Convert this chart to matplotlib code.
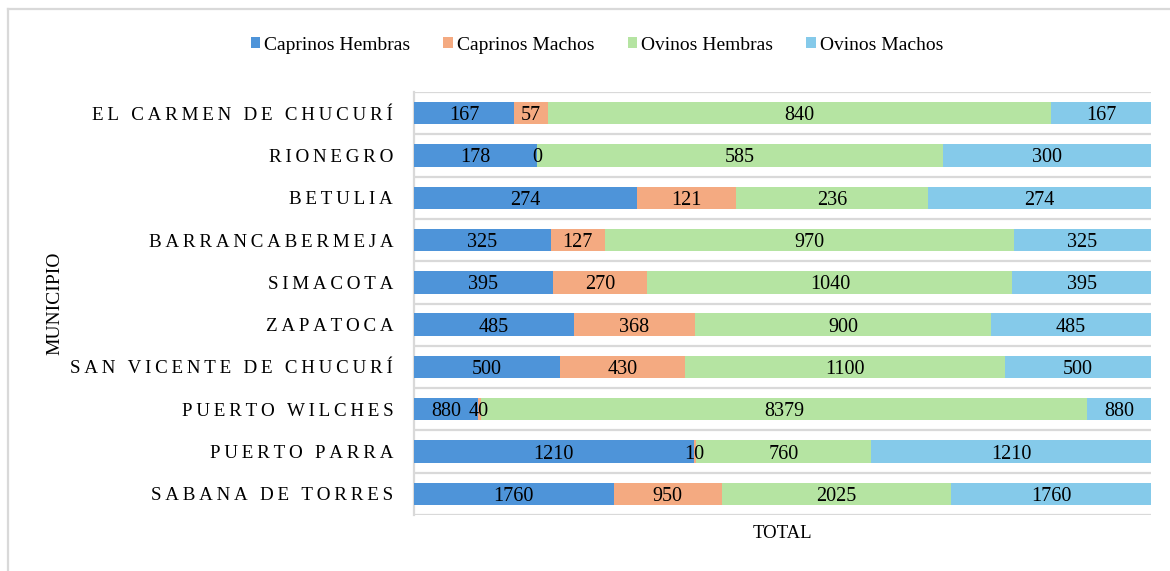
import numpy as np
import matplotlib.pyplot as plt

plt.rcParams['font.family'] = ['Liberation Serif', 'DejaVu Serif']

municipios = ['EL CARMEN DE CHUCURÍ', 'RIONEGRO', 'BETULIA', 'BARRANCABERMEJA',
              'SIMACOTA', 'ZAPATOCA', 'SAN VICENTE DE CHUCURÍ', 'PUERTO WILCHES',
              'PUERTO PARRA', 'SABANA DE TORRES']

caprinos_hembras = [167, 178, 274, 325, 395, 485, 500, 880, 1210, 1760]
caprinos_machos = [57, 0, 121, 127, 270, 368, 430, 40, 10, 950]
ovinos_hembras = [840, 585, 236, 970, 1040, 900, 1100, 8379, 760, 2025]
ovinos_machos = [167, 300, 274, 325, 395, 485, 500, 880, 1210, 1760]

series = [
    ('Caprinos Hembras', caprinos_hembras, '#4e94d9'),
    ('Caprinos Machos', caprinos_machos, '#f4aa81'),
    ('Ovinos Hembras', ovinos_hembras, '#b5e4a2'),
    ('Ovinos Machos', ovinos_machos, '#85caea'),
]

fig = plt.figure(figsize=(11.7, 5.71), dpi=100)
ax = fig.add_axes([414 / 1170, 1 - 515 / 571, 737 / 1170, 423 / 571])

# each row is normalised to 100 %
totals = np.sum([np.array(s[1]) for s in series], axis=0)
y = np.arange(len(municipios))
left = np.zeros(len(municipios))
for name, vals, color in series:
    vals = np.array(vals)
    share = vals / totals
    bars = ax.barh(y, share, left=left, height=0.53, color=color, label=name, zorder=3)
    texts = ax.bar_label(bars, labels=[str(v) for v in vals], label_type='center',
                         fontsize=14.5, color='black')
    for t in texts:
        t.set_zorder(10)
        t.set_va('center_baseline')
    left += share

ax.set_xlim(0, 1)
ax.set_ylim(len(municipios) - 0.5, -0.5)

for b in np.arange(-0.5, len(municipios)):
    ax.axhline(b, color='#d9d9d9', lw=1.6, zorder=1)

# spaced capitals for the municipality names
ax.set_yticks(y)
ax.set_yticklabels(['\u2009'.join(m) for m in municipios], fontsize=13.7)
ax.tick_params(axis='y', length=0, pad=15)
ax.set_xticks([])
for side in ['top', 'right', 'bottom']:
    ax.spines[side].set_visible(False)
ax.spines['left'].set_color('#d9d9d9')
ax.spines['left'].set_linewidth(1.6)

fig.text(782 / 1170, 1 - 533 / 571, 'TOTAL', ha='center', va='center', fontsize=13.5)
fig.text(55 / 1170, 1 - 303 / 571, 'MUNICIPIO', ha='center', va='center',
         rotation=90, fontsize=14)

fig.legend(loc='center', bbox_to_anchor=(597 / 1170, 1 - 45 / 571), ncol=4,
           frameon=False, fontsize=14, handlelength=0.5, handleheight=0.5,
           handletextpad=0.2, columnspacing=1.7)

# light frame along the top and left edge of the figure
fig.add_artist(plt.Line2D([8 / 1170, 1], [1 - 9 / 571, 1 - 9 / 571],
                          transform=fig.transFigure, color='#d9d9d9', lw=1.6))
fig.add_artist(plt.Line2D([8 / 1170, 8 / 1170], [0, 1 - 9 / 571],
                          transform=fig.transFigure, color='#d9d9d9', lw=1.6))

fig.savefig('out.png', dpi=100)
